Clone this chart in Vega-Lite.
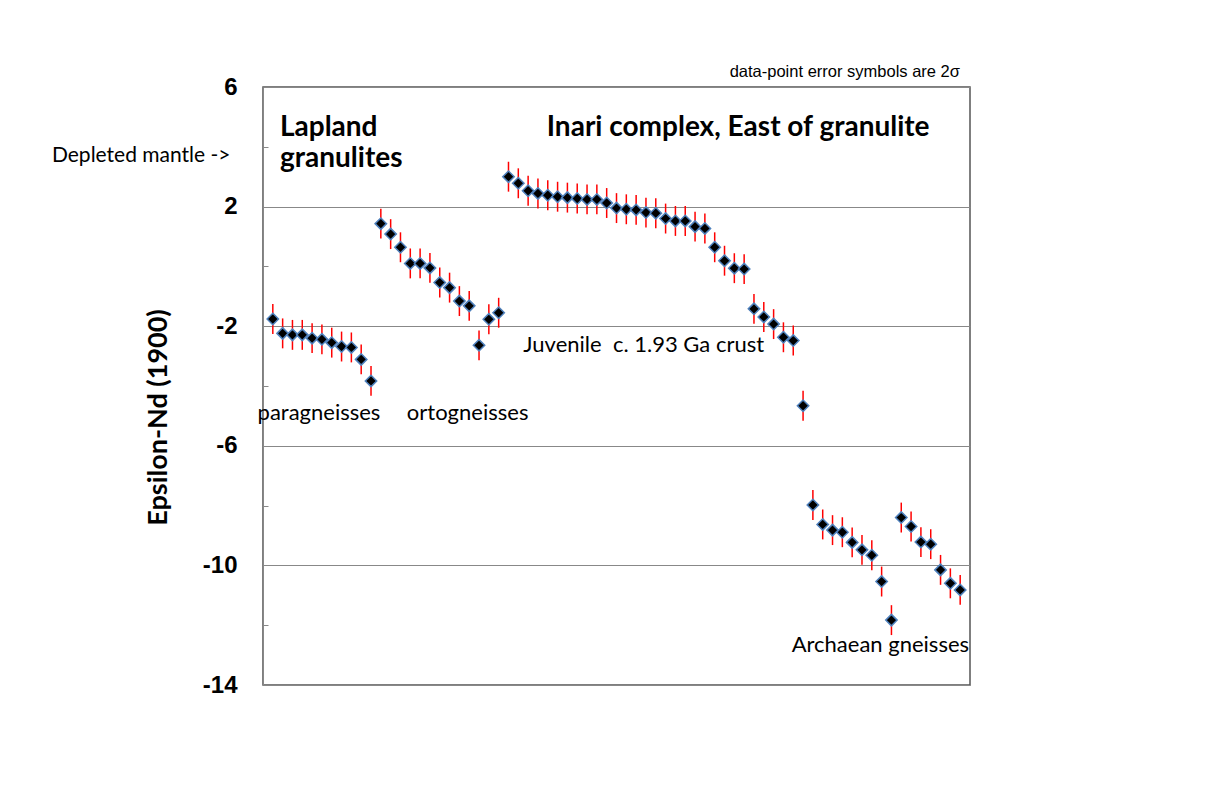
{
  "$schema": "https://vega.github.io/schema/vega-lite/v6.json",
  "autosize": "none",
  "width": 707,
  "height": 598,
  "padding": {"left": 263, "top": 87, "right": 261, "bottom": 115},
  "background": "white",
  "config": {
    "view": {"stroke": "#555555", "strokeWidth": 1.5},
    "axis": {"domainColor": "#888888"}
  },
  "datasets": {
    "pts": [
      {"i": 1, "e": -1.76, "err": 0.5}, {"i": 2, "e": -2.24, "err": 0.5}, {"i": 3, "e": -2.29, "err": 0.5}, {"i": 4, "e": -2.29, "err": 0.5}, {"i": 5, "e": -2.40, "err": 0.5},
      {"i": 6, "e": -2.44, "err": 0.5}, {"i": 7, "e": -2.55, "err": 0.5}, {"i": 8, "e": -2.68, "err": 0.5}, {"i": 9, "e": -2.71, "err": 0.5}, {"i": 10, "e": -3.11, "err": 0.5},
      {"i": 11, "e": -3.83, "err": 0.5}, {"i": 12, "e": 1.43, "err": 0.5}, {"i": 13, "e": 1.08, "err": 0.5}, {"i": 14, "e": 0.64, "err": 0.5}, {"i": 15, "e": 0.10, "err": 0.5},
      {"i": 16, "e": 0.10, "err": 0.5}, {"i": 17, "e": -0.05, "err": 0.5}, {"i": 18, "e": -0.54, "err": 0.5}, {"i": 19, "e": -0.71, "err": 0.5}, {"i": 20, "e": -1.16, "err": 0.5},
      {"i": 21, "e": -1.32, "err": 0.5}, {"i": 22, "e": -2.64, "err": 0.5}, {"i": 23, "e": -1.77, "err": 0.5}, {"i": 24, "e": -1.55, "err": 0.5}, {"i": 25, "e": 3.00, "err": 0.5},
      {"i": 26, "e": 2.78, "err": 0.5}, {"i": 27, "e": 2.53, "err": 0.5}, {"i": 28, "e": 2.44, "err": 0.5}, {"i": 29, "e": 2.38, "err": 0.5}, {"i": 30, "e": 2.33, "err": 0.5},
      {"i": 31, "e": 2.30, "err": 0.5}, {"i": 32, "e": 2.27, "err": 0.5}, {"i": 33, "e": 2.24, "err": 0.5}, {"i": 34, "e": 2.24, "err": 0.5}, {"i": 35, "e": 2.12, "err": 0.5},
      {"i": 36, "e": 1.95, "err": 0.5}, {"i": 37, "e": 1.91, "err": 0.5}, {"i": 38, "e": 1.89, "err": 0.5}, {"i": 39, "e": 1.80, "err": 0.5}, {"i": 40, "e": 1.78, "err": 0.5},
      {"i": 41, "e": 1.60, "err": 0.5}, {"i": 42, "e": 1.52, "err": 0.5}, {"i": 43, "e": 1.52, "err": 0.5}, {"i": 44, "e": 1.33, "err": 0.5}, {"i": 45, "e": 1.27, "err": 0.5},
      {"i": 46, "e": 0.64, "err": 0.5}, {"i": 47, "e": 0.19, "err": 0.5}, {"i": 48, "e": -0.06, "err": 0.5}, {"i": 49, "e": -0.09, "err": 0.5}, {"i": 50, "e": -1.42, "err": 0.5},
      {"i": 51, "e": -1.69, "err": 0.5}, {"i": 52, "e": -1.93, "err": 0.5}, {"i": 53, "e": -2.37, "err": 0.5}, {"i": 54, "e": -2.48, "err": 0.5}, {"i": 55, "e": -4.66, "err": 0.5},
      {"i": 56, "e": -7.98, "err": 0.5}, {"i": 57, "e": -8.63, "err": 0.5}, {"i": 58, "e": -8.82, "err": 0.5}, {"i": 59, "e": -8.89, "err": 0.5}, {"i": 60, "e": -9.23, "err": 0.5},
      {"i": 61, "e": -9.48, "err": 0.5}, {"i": 62, "e": -9.66, "err": 0.5}, {"i": 63, "e": -10.54, "err": 0.5}, {"i": 64, "e": -11.83, "err": 0.5}, {"i": 65, "e": -8.40, "err": 0.5},
      {"i": 66, "e": -8.70, "err": 0.5}, {"i": 67, "e": -9.22, "err": 0.5}, {"i": 68, "e": -9.29, "err": 0.5}, {"i": 69, "e": -10.15, "err": 0.5}, {"i": 70, "e": -10.60, "err": 0.5},
      {"i": 71, "e": -10.82, "err": 0.5}
    ],
    "boldNotes": [
      {"x": 1.73, "y": 4.36, "t": ["Lapland", "granulites"]},
      {"x": 28.9, "y": 4.36, "t": ["Inari complex, East of granulite"]}
    ],
    "notes": [
      {"x": 5.7, "y": -5.14, "t": "paragneisses"},
      {"x": 20.84, "y": -5.14, "t": "ortogneisses"},
      {"x": 38.77, "y": -2.86, "t": "Juvenile\u00a0 c. 1.93 Ga crust"},
      {"x": 62.87, "y": -12.9, "t": "Archaean gneisses"}
    ],
    "side": [
      {"x": -12.4, "y": 3.49, "t": "Depleted mantle ->"}
    ],
    "small": [
      {"x": 59.25, "y": 6.33, "t": "data-point error symbols are 2σ"}
    ]
  },
  "layer": [
    {
      "data": {"name": "pts"},
      "mark": {"type": "errorbar", "color": "#ff0000", "thickness": 1.5},
      "encoding": {
        "x": {"field": "i", "type": "quantitative", "scale": {"domain": [0, 72], "nice": false, "zero": false}, "axis": null},
        "y": {
          "field": "e", "type": "quantitative",
          "scale": {"domain": [-14, 6], "nice": false, "zero": false},
          "axis": {
            "values": [6, 4, 2, 0, -2, -4, -6, -8, -10, -12, -14],
            "labelExpr": "(datum.value - 6) % 4 === 0 ? toString(datum.value) : ''",
            "labelFont": "Liberation Sans",
            "labelFontWeight": "bold",
            "labelFontSize": 24,
            "labelColor": "#000000",
            "labelPadding": 31,
            "tickSize": -5,
            "tickColor": "#888888",
            "tickOpacity": {"condition": {"test": "(datum.value - 6) % 4 === 0", "value": 0}, "value": 1},
            "grid": true,
            "gridColor": "#888888",
            "gridWidth": 1,
            "gridOpacity": {"condition": {"test": "(datum.value - 6) % 4 === 0", "value": 1}, "value": 0},
            "title": "Epsilon-Nd (1900)",
            "titleFont": "Lato",
            "titleFontWeight": "bold",
            "titleFontSize": 27,
            "titleColor": "#000000",
            "titleAngle": -90,
            "titleAlign": "center",
            "titleBaseline": "middle",
            "titleX": -105,
            "titleY": 330
          }
        },
        "yError": {"field": "err"}
      }
    },
    {
      "data": {"name": "pts"},
      "mark": {"type": "point", "shape": "diamond", "filled": true, "fill": "#000000", "stroke": "#4F81BD", "strokeWidth": 1.5, "size": 130, "opacity": 1},
      "encoding": {
        "x": {"field": "i", "type": "quantitative"},
        "y": {"field": "e", "type": "quantitative"}
      }
    },
    {
      "data": {"name": "boldNotes"},
      "mark": {"type": "text", "align": "left", "baseline": "alphabetic", "font": "Lato", "fontWeight": "bold", "fontSize": 28, "lineHeight": 31, "color": "#000000", "clip": false},
      "encoding": {
        "x": {"field": "x", "type": "quantitative"},
        "y": {"field": "y", "type": "quantitative"},
        "text": {"field": "t"}
      }
    },
    {
      "data": {"name": "notes"},
      "mark": {"type": "text", "align": "center", "baseline": "alphabetic", "font": "Lato", "fontSize": 22, "color": "#000000", "clip": false},
      "encoding": {
        "x": {"field": "x", "type": "quantitative"},
        "y": {"field": "y", "type": "quantitative"},
        "text": {"field": "t"}
      }
    },
    {
      "data": {"name": "side"},
      "mark": {"type": "text", "align": "center", "baseline": "alphabetic", "font": "Lato", "fontSize": 21, "color": "#000000", "clip": false},
      "encoding": {
        "x": {"field": "x", "type": "quantitative"},
        "y": {"field": "y", "type": "quantitative"},
        "text": {"field": "t"}
      }
    },
    {
      "data": {"name": "small"},
      "mark": {"type": "text", "align": "center", "baseline": "alphabetic", "font": "Liberation Sans", "fontSize": 16.5, "color": "#000000", "clip": false},
      "encoding": {
        "x": {"field": "x", "type": "quantitative"},
        "y": {"field": "y", "type": "quantitative"},
        "text": {"field": "t"}
      }
    }
  ]
}
